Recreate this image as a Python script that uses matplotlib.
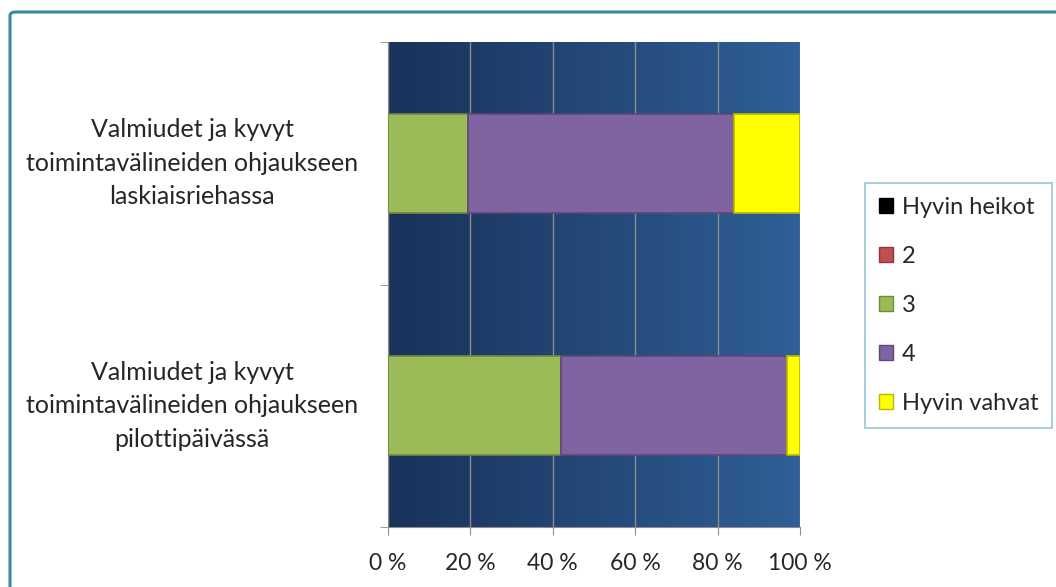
import matplotlib
matplotlib.use("Agg")
import matplotlib.pyplot as plt
from matplotlib.patches import FancyBboxPatch, Patch
from matplotlib.colors import LinearSegmentedColormap
import numpy as np

plt.rcParams['font.family'] = ['Lato', 'DejaVu Sans']

# data (counts of answers, shown as share of 100 %)
categories = ["Valmiudet ja kyvyt\ntoimintavälineiden ohjaukseen\npilottipäivässä",
              "Valmiudet ja kyvyt\ntoimintavälineiden ohjaukseen\nlaskiaisriehassa"]
series = ["Hyvin heikot", "2", "3", "4", "Hyvin vahvat"]
hyvin_heikot = [0, 0]
kaksi = [0, 0]
kolme = [13, 6]
nelja = [17, 20]
hyvin_vahvat = [1, 5]
xticks = ["0 %", "20 %", "40 %", "60 %", "80 %", "100 %"]

colors = ["#000000", "#c0504d", "#9bbb59", "#8064a2", "#ffff00"]
edges = ["#000000", "#8c3836", "#71893f", "#5c4776", "#b8b800"]

fig = plt.figure(figsize=(10.56, 5.87), dpi=100)

# outer chart border
fig.patches.append(FancyBboxPatch((10/1056, -0.1), 1.2, 1.1 - 12/587,
                                  boxstyle="round,pad=0,rounding_size=0.006",
                                  transform=fig.transFigure, fill=False,
                                  edgecolor="#3b88a2", linewidth=2.2))

ax = fig.add_axes([388/1056, 1-527/587, 412/1056, 485/587])

vals = np.array([hyvin_heikot, kaksi, kolme, nelja, hyvin_vahvat], dtype=float)
pct = vals / vals.sum(axis=0) * 100

# gradient background
grad = np.linspace(0, 1, 256).reshape(1, -1)
bg = LinearSegmentedColormap.from_list("bg", ["#19325a", "#2f5f97"])
ax.imshow(grad, extent=[0, 100, -0.5, 1.5], aspect="auto", cmap=bg, zorder=0)

ypos = np.arange(len(categories))
left = np.zeros(len(categories))
for i, name in enumerate(series):
    ax.barh(ypos, pct[i], left=left, height=0.41, color=colors[i],
            edgecolor=edges[i], linewidth=1.2, label=name, zorder=3)
    left += pct[i]

ax.set_xlim(0, 100)
ax.set_ylim(-0.5, 1.5)
ax.set_xticks(np.arange(0, 101, 20))
ax.set_xticklabels(xticks, fontsize=16.5, color="#262626")
ax.xaxis.grid(True, color="#8c8c8c", linewidth=1)
for l in ax.get_xgridlines():
    l.set_zorder(1)

ax.set_yticks(ypos)
ax.set_yticklabels(categories, fontsize=18, color="#262626", ha="center",
                   va="center", linespacing=1.55)
ax.tick_params(axis="y", length=0, pad=141)
ax.set_yticks([-0.5, 0.5, 1.5], minor=True)
ax.tick_params(axis="y", which="minor", length=6, color="#8c8c8c")
ax.tick_params(axis="x", length=6, color="#8c8c8c", pad=13)
for s in ["top", "right"]:
    ax.spines[s].set_visible(False)
ax.spines["left"].set_color("#8c8c8c")
ax.spines["bottom"].set_color("#8c8c8c")

handles = [Patch(facecolor=colors[i], edgecolor=edges[i], label=series[i])
           for i in range(len(series))]
leg = fig.legend(handles=handles, loc="upper left",
                 bbox_to_anchor=(865/1056, 1-183/587), fontsize=17,
                 frameon=True, fancybox=False, labelspacing=1.18,
                 handlelength=0.6, handleheight=0.6, handletextpad=0.35,
                 borderpad=0.6, borderaxespad=0)
leg.get_frame().set_edgecolor("#7fb8cc")
leg.get_frame().set_linewidth(1.2)
for t in leg.get_texts():
    t.set_color("#262626")

fig.savefig("out.png", dpi=100)
